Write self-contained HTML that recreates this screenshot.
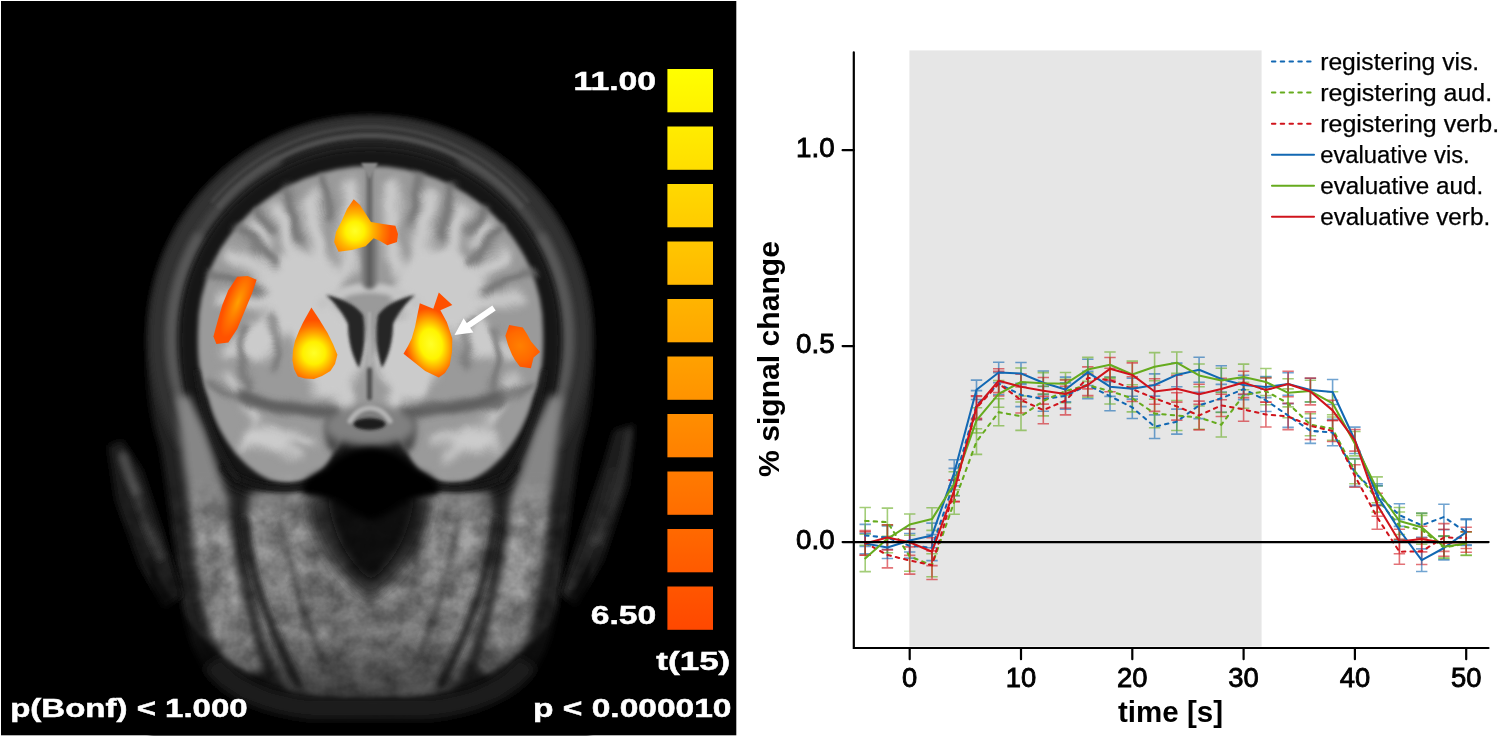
<!DOCTYPE html>
<html><head><meta charset="utf-8"><title>figure</title>
<style>
html,body{margin:0;padding:0;background:#fff;}
body{width:1499px;height:738px;overflow:hidden;font-family:"Liberation Sans",sans-serif;}
svg{display:block;position:absolute;left:0;top:0}
text{font-family:"Liberation Sans",sans-serif;}
</style></head><body>
<svg width="1499" height="738" viewBox="0 0 1499 738">
<rect width="1499" height="738" fill="#fff"/>
<!-- LEFT PANEL -->
<rect x="1" y="1" width="735.3" height="734.3" fill="#000"/>
<svg x="1" y="1" width="735.3" height="734.3" viewBox="1 1 735.3 734.3" overflow="hidden">
<defs><filter id="b1" filterUnits="userSpaceOnUse" x="0" y="0" width="740" height="740"><feGaussianBlur stdDeviation="1.1"/></filter><filter id="b15" filterUnits="userSpaceOnUse" x="0" y="0" width="740" height="740"><feGaussianBlur stdDeviation="1.6"/></filter><filter id="b2" filterUnits="userSpaceOnUse" x="0" y="0" width="740" height="740"><feGaussianBlur stdDeviation="2.1"/></filter><filter id="b3" filterUnits="userSpaceOnUse" x="0" y="0" width="740" height="740"><feGaussianBlur stdDeviation="3"/></filter><filter id="b4" filterUnits="userSpaceOnUse" x="0" y="0" width="740" height="740"><feGaussianBlur stdDeviation="4"/></filter><filter id="b6" filterUnits="userSpaceOnUse" x="0" y="0" width="740" height="740"><feGaussianBlur stdDeviation="6"/></filter><filter id="b9" filterUnits="userSpaceOnUse" x="0" y="0" width="740" height="740"><feGaussianBlur stdDeviation="9"/></filter><filter id="b14" filterUnits="userSpaceOnUse" x="0" y="0" width="740" height="740"><feGaussianBlur stdDeviation="14"/></filter>
<filter id="wob" color-interpolation-filters="sRGB" filterUnits="userSpaceOnUse" x="0" y="0" width="740" height="740"><feGaussianBlur in="SourceGraphic" stdDeviation="4" result="bl"/><feTurbulence type="fractalNoise" baseFrequency="0.028" numOctaves="2" seed="5" result="t"/><feDisplacementMap in="bl" in2="t" scale="16" xChannelSelector="R" yChannelSelector="G"/></filter>
<filter id="wob2" color-interpolation-filters="sRGB" filterUnits="userSpaceOnUse" x="0" y="0" width="740" height="740"><feGaussianBlur in="SourceGraphic" stdDeviation="3" result="bl"/><feTurbulence type="fractalNoise" baseFrequency="0.028" numOctaves="2" seed="5" result="t"/><feDisplacementMap in="bl" in2="t" scale="16" xChannelSelector="R" yChannelSelector="G"/></filter>
<filter id="grain" color-interpolation-filters="sRGB" filterUnits="userSpaceOnUse" x="0" y="0" width="740" height="740"><feTurbulence type="fractalNoise" baseFrequency="0.04" numOctaves="4" seed="11" result="n"/><feColorMatrix in="n" type="matrix" values="1.5 0 0 0 -0.25  1.5 0 0 0 -0.25  1.5 0 0 0 -0.25  0 0 0 0 1"/><feGaussianBlur stdDeviation="0.7"/></filter>
<radialGradient id="hot1" gradientUnits="userSpaceOnUse" cx="355" cy="231" r="36"><stop offset="0" stop-color="#ffff28"/><stop offset=".26" stop-color="#fff200"/><stop offset=".5" stop-color="#ffb400"/><stop offset=".78" stop-color="#ff7a00"/><stop offset="1" stop-color="#ff5400"/></radialGradient>
<radialGradient id="hot3" gradientUnits="userSpaceOnUse" cx="314" cy="353" r="33"><stop offset="0" stop-color="#ffff28"/><stop offset=".34" stop-color="#fff000"/><stop offset=".6" stop-color="#ffa800"/><stop offset=".82" stop-color="#ff7000"/><stop offset="1" stop-color="#ff5000"/></radialGradient>
<radialGradient id="hot4" gradientUnits="userSpaceOnUse" cx="431" cy="344" r="36" gradientTransform="rotate(-12 431 344) translate(431 344) scale(.72 1) translate(-431 -344)"><stop offset="0" stop-color="#ffff28"/><stop offset=".42" stop-color="#fff400"/><stop offset=".66" stop-color="#ffb000"/><stop offset=".88" stop-color="#ff7000"/><stop offset="1" stop-color="#ff5000"/></radialGradient>
<radialGradient id="hot2" gradientUnits="userSpaceOnUse" cx="238" cy="302" r="38" gradientTransform="rotate(22 238 302) translate(238 302) scale(.3 1) translate(-238 -302)"><stop offset="0" stop-color="#ffa000"/><stop offset=".45" stop-color="#ff7c00"/><stop offset="1" stop-color="#ff5200"/></radialGradient>
<radialGradient id="hot5" gradientUnits="userSpaceOnUse" cx="520" cy="346" r="24"><stop offset="0" stop-color="#ff8000"/><stop offset=".6" stop-color="#ff6a00"/><stop offset="1" stop-color="#ff5000"/></radialGradient>
<clipPath id="faceclip"><path d="M96 430H644V640C600 700 470 724 370 724C270 724 140 700 96 640Z"/></clipPath>
<linearGradient id="gfade" x1="0" y1="470" x2="0" y2="520" gradientUnits="userSpaceOnUse"><stop offset="0" stop-color="#000"/><stop offset="1" stop-color="#fff"/></linearGradient>
<mask id="gmask" maskUnits="userSpaceOnUse" x="0" y="0" width="740" height="740"><rect x="0" y="0" width="740" height="740" fill="url(#gfade)"/></mask>
</defs>
<path filter="url(#b3)" fill="#222222" d="M370 117C496 117 593 216 593 338C593 390 588 420 580 445C574 475 568 530 562 570C558 610 552 640 540 662C524 690 490 708 450 716C420 721 320 721 290 716C250 708 216 690 200 662C188 640 182 610 178 570C172 530 166 475 160 445C152 420 147 390 147 338C147 216 244 117 370 117Z"/>
<path filter="url(#b3)" fill="none" stroke="#333333" stroke-width="22" d="M188.1 443.5L179.7 427.2L172.7 410.2L167.2 392.6L163.2 374.6L160.8 356.4L160.0 338.0L160.8 319.6L163.2 301.4L167.2 283.4L172.7 265.8L179.7 248.8L188.1 232.5L198.0 217.0L209.1 202.4L221.5 188.8L235.0 176.4L249.5 165.2L265.0 155.3L281.3 146.8L298.2 139.7L315.6 134.2L333.5 130.2L351.7 127.8L370.0 127.0L388.3 127.8L406.5 130.2L424.4 134.2L441.8 139.7L458.7 146.8L475.0 155.3L490.5 165.2L505.0 176.4L518.5 188.8L530.9 202.4L542.0 217.0L551.9 232.5L560.3 248.8L567.3 265.8L572.8 283.4L576.8 301.4L579.2 319.6L580.0 338.0L579.2 356.4L576.8 374.6L572.8 392.6L567.3 410.2L560.3 427.2L551.9 443.5"/>
<path filter="url(#b3)" fill="none" stroke="#4a4a4a" stroke-width="9" stroke-linecap="round" d="M207.4 452.7L203.5 446.9L199.8 440.9L196.3 434.8L193.0 428.5L189.9 422.2L187.1 415.7L184.5 409.2L182.1 402.6L180.0 395.8L178.1 389.1L176.4 382.2L175.0 375.3L173.8 368.4L172.9 361.4L172.2 354.3L171.7 347.3L171.5 340.3L171.6 333.2L171.8 326.2L172.4 319.1L173.2 312.1L174.2 305.1L175.5 298.2L177.0 291.3L178.7 284.5L180.7 277.7L183.0 271.0L185.4 264.4L188.1 257.9L191.0 251.5L194.2 245.2L197.5 239.0L201.1 232.9L204.9 227.0L208.9 221.2L213.0 215.6L217.4 210.1L222.0 204.7L226.8 199.5L231.7 194.5L236.8 189.7L242.1 185.1L247.5 180.6L253.1 176.4L258.8 172.3L264.7 168.5L270.7 164.8L276.8 161.4"/>
<path filter="url(#b3)" fill="none" stroke="#4a4a4a" stroke-width="9" stroke-linecap="round" d="M463.2 161.4L469.3 164.8L475.3 168.5L481.2 172.3L486.9 176.4L492.5 180.6L497.9 185.1L503.2 189.7L508.3 194.5L513.2 199.5L518.0 204.7L522.6 210.1L527.0 215.6L531.1 221.2L535.1 227.0L538.9 232.9L542.5 239.0L545.8 245.2L549.0 251.5L551.9 257.9L554.6 264.4L557.0 271.0L559.3 277.7L561.3 284.5L563.0 291.3L564.5 298.2L565.8 305.1L566.8 312.1L567.6 319.1L568.2 326.2L568.4 333.2L568.5 340.3L568.3 347.3L567.8 354.3L567.1 361.4L566.2 368.4L565.0 375.3L563.6 382.2L561.9 389.1L560.0 395.8L557.9 402.6L555.5 409.2L552.9 415.7L550.1 422.2L547.0 428.5L543.7 434.8L540.2 440.9L536.5 446.9L532.6 452.7"/>
<path filter="url(#b3)" fill="none" stroke="#585858" stroke-width="10" stroke-linecap="round" d="M207.4 452.7L204.8 448.8L202.2 444.8L199.7 440.8L197.4 436.7L195.1 432.6L192.9 428.4L190.9 424.2L188.9 419.9L187.0 415.5L185.3 411.2L183.6 406.7L182.0 402.3L180.6 397.8L179.2 393.3L178.0 388.7L176.9 384.1L175.8 379.5L174.9 374.9L174.1 370.2L173.4 365.5L172.8 360.9L172.3 356.2L171.9 351.4L171.7 346.7L171.5 342.0L171.5 337.3L171.6 332.5L171.8 327.8L172.1 323.1L172.5 318.4L173.0 313.7L173.6 309.0L174.3 304.3L175.2 299.7L176.1 295.1L177.2 290.5L178.4 285.9L179.6 281.3L181.0 276.8L182.5 272.3L184.1 267.9L185.8 263.5L187.6 259.1L189.5 254.8L191.5 250.5L193.6 246.3L195.8 242.1L198.1 238.0"/>
<path filter="url(#b3)" fill="none" stroke="#585858" stroke-width="10" stroke-linecap="round" d="M541.9 238.0L544.2 242.1L546.4 246.3L548.5 250.5L550.5 254.8L552.4 259.1L554.2 263.5L555.9 267.9L557.5 272.3L559.0 276.8L560.4 281.3L561.6 285.9L562.8 290.5L563.9 295.1L564.8 299.7L565.7 304.3L566.4 309.0L567.0 313.7L567.5 318.4L567.9 323.1L568.2 327.8L568.4 332.5L568.5 337.3L568.5 342.0L568.3 346.7L568.1 351.4L567.7 356.2L567.2 360.9L566.6 365.5L565.9 370.2L565.1 374.9L564.2 379.5L563.1 384.1L562.0 388.7L560.8 393.3L559.4 397.8L558.0 402.3L556.4 406.7L554.7 411.2L553.0 415.5L551.1 419.9L549.1 424.2L547.1 428.4L544.9 432.6L542.6 436.7L540.3 440.8L537.8 444.8L535.2 448.8L532.6 452.7"/>
<path filter="url(#b15)" fill="none" stroke="#505050" stroke-width="5" d="M217.6 207.8L222.3 202.3L227.3 196.9L232.4 191.7L237.7 186.7L243.2 181.9L248.9 177.3L254.7 173.0L260.6 168.8L266.8 164.9L273.0 161.2L279.4 157.7L285.9 154.5L292.5 151.5L299.2 148.7L306.0 146.2L312.9 144.0L319.9 142.0L326.9 140.3L334.0 138.8L341.2 137.6L348.3 136.7L355.5 136.0L362.8 135.6L370.0 135.5L377.2 135.6L384.5 136.0L391.7 136.7L398.8 137.6L406.0 138.8L413.1 140.3L420.1 142.0L427.1 144.0L434.0 146.2L440.8 148.7L447.5 151.5L454.1 154.5L460.6 157.7L467.0 161.2L473.2 164.9L479.4 168.8L485.3 173.0L491.1 177.3L496.8 181.9L502.3 186.7L507.6 191.7L512.7 196.9L517.7 202.3L522.4 207.8"/>
<path filter="url(#b15)" fill="none" stroke="#464646" stroke-width="3" d="M211.4 202.4L216.4 196.6L221.5 191.0L226.9 185.6L232.4 180.4L238.1 175.4L244.0 170.6L250.0 166.0L256.3 161.7L262.6 157.6L269.1 153.8L275.8 150.1L282.5 146.8L289.4 143.7L296.4 140.8L303.5 138.2L310.6 135.9L317.9 133.8L325.2 132.0L332.6 130.5L340.0 129.2L347.5 128.3L355.0 127.6L362.5 127.1L370.0 127.0L377.5 127.1L385.0 127.6L392.5 128.3L400.0 129.2L407.4 130.5L414.8 132.0L422.1 133.8L429.4 135.9L436.5 138.2L443.6 140.8L450.6 143.7L457.5 146.8L464.2 150.1L470.9 153.8L477.4 157.6L483.7 161.7L490.0 166.0L496.0 170.6L501.9 175.4L507.6 180.4L513.1 185.6L518.5 191.0L523.6 196.6L528.6 202.4"/>
<path filter="url(#b3)" fill="#141414" d="M370 149C476 149 560 232 560 338C560 390 548 430 526 470C510 496 480 500 460 496H280C260 500 230 496 214 470C192 430 180 390 180 338C180 232 264 149 370 149Z"/>
<path filter="url(#b2)" fill="#9a9a9a" d="M198 330A172.5 164 0 0 1 543 330C544 360 541 380 533 398C525 430 503 466 471 480C441 488 419 476 409 456C401 436 391 416 370.5 412C350 416 340 436 332 456C322 476 300 488 270 480C238 466 216 430 208 398C200 380 197 360 198 330Z"/>
<g filter="url(#wob)" fill="#cbcbcb" stroke="#cbcbcb" stroke-linecap="round"><path fill="none" d="M322 264L311 199" stroke-width="15"/><g transform="translate(741 0) scale(-1 1)"><path fill="none" d="M322 264L311 199" stroke-width="15"/></g><path fill="none" d="M297 268L278 208" stroke-width="14"/><g transform="translate(741 0) scale(-1 1)"><path fill="none" d="M297 268L278 208" stroke-width="14"/></g><path fill="none" d="M290 280L233 255" stroke-width="14"/><g transform="translate(741 0) scale(-1 1)"><path fill="none" d="M290 280L233 255" stroke-width="14"/></g><path fill="none" d="M286 300L219 300" stroke-width="13"/><g transform="translate(741 0) scale(-1 1)"><path fill="none" d="M286 300L219 300" stroke-width="13"/></g><path fill="none" d="M266 244L254 228" stroke-width="11"/><g transform="translate(741 0) scale(-1 1)"><path fill="none" d="M266 244L254 228" stroke-width="11"/></g><path fill="none" d="M347 268L351 186" stroke-width="15"/><g transform="translate(741 0) scale(-1 1)"><path fill="none" d="M347 268L351 186" stroke-width="15"/></g><path fill="none" d="M300 290L258 345" stroke-width="34"/><g transform="translate(741 0) scale(-1 1)"><path fill="none" d="M300 290L258 345" stroke-width="34"/></g><path fill="none" d="M262 340L226 352" stroke-width="13"/><g transform="translate(741 0) scale(-1 1)"><path fill="none" d="M262 340L226 352" stroke-width="13"/></g><path fill="none" d="M300 300L330 380" stroke-width="40"/><g transform="translate(741 0) scale(-1 1)"><path fill="none" d="M300 300L330 380" stroke-width="40"/></g><path fill="none" d="M226 376L254 420" stroke-width="9"/><g transform="translate(741 0) scale(-1 1)"><path fill="none" d="M226 376L254 420" stroke-width="9"/></g><path fill="none" d="M262 434L242 448" stroke-width="8"/><g transform="translate(741 0) scale(-1 1)"><path fill="none" d="M262 434L242 448" stroke-width="8"/></g><path fill="none" d="M264 438L296 458" stroke-width="9"/><g transform="translate(741 0) scale(-1 1)"><path fill="none" d="M264 438L296 458" stroke-width="9"/></g><path fill="none" d="M270 432L308 442" stroke-width="9"/><g transform="translate(741 0) scale(-1 1)"><path fill="none" d="M270 432L308 442" stroke-width="9"/></g><path fill="none" d="M330 380L348 402" stroke-width="18"/><g transform="translate(741 0) scale(-1 1)"><path fill="none" d="M330 380L348 402" stroke-width="18"/></g><g stroke="none"><ellipse cx="302" cy="288" rx="44" ry="38"/></g><g transform="translate(741 0) scale(-1 1)"><g stroke="none"><ellipse cx="302" cy="288" rx="44" ry="38"/></g></g><g stroke="none"><ellipse cx="332" cy="352" rx="34" ry="40"/></g><g transform="translate(741 0) scale(-1 1)"><g stroke="none"><ellipse cx="332" cy="352" rx="34" ry="40"/></g></g><g stroke="none"><ellipse cx="266" cy="438" rx="22" ry="12"/></g><g transform="translate(741 0) scale(-1 1)"><g stroke="none"><ellipse cx="266" cy="438" rx="22" ry="12"/></g></g></g>
<path filter="url(#b2)" fill="none" stroke="#c4c4c4" stroke-width="10" stroke-linecap="round" d="M322 304C338 292 354 288 369.5 288C385 288 401 292 417 304"/>
<g filter="url(#wob2)" fill="none" stroke="#707070" stroke-linecap="round"><path d="M287 187L300 238" stroke-width="7"/><g transform="translate(741 0) scale(-1 1)"><path d="M287 187L300 238" stroke-width="7"/></g><path d="M322 175L329 218" stroke-width="6.5"/><g transform="translate(741 0) scale(-1 1)"><path d="M322 175L329 218" stroke-width="6.5"/></g><path d="M238 229L274 264" stroke-width="7"/><g transform="translate(741 0) scale(-1 1)"><path d="M238 229L274 264" stroke-width="7"/></g><path d="M209 273L262 290" stroke-width="7"/><g transform="translate(741 0) scale(-1 1)"><path d="M209 273L262 290" stroke-width="7"/></g><path d="M258 209L270 234" stroke-width="6.5"/><g transform="translate(741 0) scale(-1 1)"><path d="M258 209L270 234" stroke-width="6.5"/></g><path d="M268 316C280 330 280 352 272 368" stroke-width="5.5"/><g transform="translate(741 0) scale(-1 1)"><path d="M268 316C280 330 280 352 272 368" stroke-width="5.5"/></g><path d="M246 330C240 350 240 370 250 388" stroke-width="6"/><g transform="translate(741 0) scale(-1 1)"><path d="M246 330C240 350 240 370 250 388" stroke-width="6"/></g><path d="M210 384L246 404" stroke-width="6.5"/><g transform="translate(741 0) scale(-1 1)"><path d="M210 384L246 404" stroke-width="6.5"/></g><path d="M240 394C268 408 306 408 338 414" stroke-width="10"/><g transform="translate(741 0) scale(-1 1)"><path d="M240 394C268 408 306 408 338 414" stroke-width="10"/></g></g>
<g filter="url(#b3)" fill="none" stroke="#5c5c5c" stroke-linecap="round"><path d="M244 396C270 409 306 409 336 414" stroke-width="8"/><g transform="translate(741 0) scale(-1 1)"><path d="M244 396C270 409 306 409 336 414" stroke-width="8"/></g></g>
<g filter="url(#b3)" fill="#4a4a4a"><ellipse cx="334" cy="432" rx="9" ry="20"/><g transform="translate(741 0) scale(-1 1)"><ellipse cx="334" cy="432" rx="9" ry="20"/></g></g>
<g filter="url(#b2)" fill="none" stroke-linecap="round"><path d="M369.5 236V282" stroke="#767676" stroke-width="15"/><path d="M369.5 170V286" stroke="#505050" stroke-width="4"/></g>
<path filter="url(#b1)" fill="#8a8a8a" d="M361 163L378 163L369.5 179Z"/>
<g filter="url(#b15)" fill="#262626"><path d="M326 295C341 298 356 305 363 315C366 332 365 350 359 368C352 356 348 340 348 324C343 313 335 303 326 295Z"/><g transform="translate(741 0) scale(-1 1)"><path d="M326 295C341 298 356 305 363 315C366 332 365 350 359 368C352 356 348 340 348 324C343 313 335 303 326 295Z"/></g></g>
<path filter="url(#b1)" fill="none" stroke="#b0b0b0" stroke-width="2.5" d="M369.5 312V366"/>
<path filter="url(#b15)" fill="none" stroke="#505050" stroke-width="5" stroke-linecap="round" d="M369.5 370V398"/>
<ellipse filter="url(#b4)" cx="370" cy="426" rx="46" ry="20" fill="#808080"/>
<ellipse filter="url(#b15)" cx="369.5" cy="424" rx="16" ry="6" fill="#1e1e1e"/>
<path filter="url(#b15)" fill="none" stroke="#b4b4b4" stroke-width="5" stroke-linecap="round" d="M350 421C356 411 364 408 370 408C376 408 384 411 390 421"/>
<g><path filter="url(#b4)" fill="#7e7e7e" d="M250 492C300 488 440 488 490 492C498 560 484 640 452 694C420 706 320 706 288 694C256 640 242 560 250 492Z"/><ellipse filter="url(#b9)" cx="372" cy="622" rx="78" ry="44" fill="#787878"/><g filter="url(#b4)" fill="#868686"><path d="M177 396L180 430L183 460L189 500L193 540L202 600L213 640L226 664L246 676L264 670L254 640L244 600L232 540L228 500L215 460L205 430L189 396Z"/><g transform="translate(739 0) scale(-1 1)"><path d="M177 396L180 430L183 460L189 500L193 540L202 600L213 640L226 664L246 676L264 670L254 640L244 600L232 540L228 500L215 460L205 430L189 396Z"/></g></g><g filter="url(#b3)" fill="none" stroke="#202020" stroke-linecap="round"><path d="M243 520C250 572 270 630 298 684" stroke-width="8"/><g transform="translate(739 0) scale(-1 1)"><path d="M243 520C250 572 270 630 298 684" stroke-width="8"/></g></g><g filter="url(#b3)" fill="none" stroke="#484848" stroke-linecap="round"><path d="M280 520C290 570 305 620 322 660" stroke-width="5"/><g transform="translate(739 0) scale(-1 1)"><path d="M280 520C290 570 305 620 322 660" stroke-width="5"/></g></g><g filter="url(#b2)" fill="none" stroke="#161616" stroke-linecap="round"><path d="M224 468C250 492 300 494 332 478" stroke-width="7"/><g transform="translate(739 0) scale(-1 1)"><path d="M224 468C250 492 300 494 332 478" stroke-width="7"/></g></g><g filter="url(#b2)" fill="none" stroke="#1a1a1a" stroke-linecap="round"><path d="M197 372C204 420 218 452 238 480" stroke-width="4.5"/><path d="M544 372C537 420 523 452 502 480" stroke-width="4.5"/></g><path filter="url(#b6)" fill="#262626" d="M308 498C340 490 400 490 432 498C430 540 404 578 370 600C336 578 310 540 308 498Z"/><path filter="url(#b4)" fill="#0c0c0c" d="M328 498C344 494 398 494 414 498C410 536 392 564 371 580C350 564 332 536 328 498Z"/><path filter="url(#b3)" fill="#040404" d="M326 470C336 456 352 449 371 448C390 449 404 456 416 470C432 474 442 484 438 494C422 498 408 500 400 506C390 514 380 518 371 520C362 518 352 514 342 506C334 500 320 498 304 494C300 484 310 474 326 470Z"/><g filter="url(#b3)"><path fill="#1c1c1c" d="M122 440L108 446L116 500L140 566L164 608L182 596L160 524L142 470Z"/><path fill="#1e1e1e" d="M614 430L634 424L628 484L602 562L576 606L560 594L584 522L604 464Z"/><path fill="none" stroke="#343434" stroke-width="8" stroke-linecap="round" d="M136 492C142 512 150 534 160 556"/><path fill="none" stroke="#525252" stroke-width="7" stroke-linecap="round" d="M123 456C126 468 131 480 136 492"/><path fill="none" stroke="#363636" stroke-width="5" stroke-linecap="round" d="M630 432C624 470 612 510 596 542"/><path fill="none" stroke="#2c2c2c" stroke-width="4" stroke-linecap="round" d="M612 470C604 510 590 550 572 588"/></g></g>
<g clip-path="url(#faceclip)" mask="url(#gmask)" style="mix-blend-mode:overlay" opacity=".3"><rect x="90" y="425" width="560" height="305" filter="url(#grain)"/></g>
<linearGradient id="bfade" x1="0" y1="590" x2="0" y2="720" gradientUnits="userSpaceOnUse"><stop offset="0" stop-color="#000" stop-opacity="0"/><stop offset=".35" stop-color="#000" stop-opacity=".1"/><stop offset=".46" stop-color="#000" stop-opacity=".2"/><stop offset=".65" stop-color="#000" stop-opacity=".4"/><stop offset=".8" stop-color="#000" stop-opacity=".5"/><stop offset="1" stop-color="#000" stop-opacity=".6"/></linearGradient><rect x="140" y="590" width="460" height="140" fill="url(#bfade)"/><path filter="url(#b2)" fill="#000" fill-opacity=".55" d="M150 560C180 620 220 672 300 694L330 697H410L440 694C520 672 560 620 590 560V740H150Z"/>
<path style="mix-blend-mode:lighten" filter="url(#b4)" fill="none" stroke="#1a1a1a" stroke-width="22" d="M212 662C232 690 270 704 310 708H430C470 704 508 690 528 662"/>
<g id="blobs">
<path fill="url(#hot1)" d="M353.7 199.2L360 205L371 222L383 224L395.4 225.7L398 234L397 242L387.3 245.3L380 241L373.7 238.2L365.6 246.3L352 250L338.5 251.8L334.1 242L336 232L341.2 222L347 209Z"/>
<path fill="url(#hot2)" d="M237.2 276.8L247.7 276L256.6 279.8L252.1 293.2L244.7 311.1L237.2 329L228.3 342.4L216.4 343.9L213.4 336.4L217.9 320L222.3 305.1L228.3 290.3Z"/>
<path fill="url(#hot3)" d="M311.4 307.6L319 319L327.6 333L333 344L337.4 354.7L335 364L330.4 371L322 376L314 379L305 378.5L297.8 376.4L294 369L292.4 360L293 350L295 341L299 331L303.3 322Z"/>
<path fill="url(#hot4)" d="M419.8 303.3L433.3 308.7L438.8 292.4L452.3 304.9L440.4 310.3L446.9 322.2L452.3 338.5L452 352L449.6 365.6L445 373L438.8 377.5L425.2 371L411.7 360.2L403.5 353.7L408 346L411.7 338.5L415 327L417 316.8Z"/>
<path fill="url(#hot5)" d="M509.2 325L522.8 327.6L527 334L530.9 341.2L540.1 352L533.6 357.5L530.9 368.3L520 366.7L515 360L512 354.7L508 345L505.4 335.8Z"/>
</g>
<path fill="#fff" d="M454.5 335L463.6 318.2L466.8 323L492.3 305.6L495.7 310.4L470.2 327.8L473.4 332.6Z"/>
</svg>
<linearGradient id="cb0" x1="0" y1="0" x2="0" y2="1"><stop offset="0" stop-color="rgb(255,255,0)"/><stop offset="1" stop-color="rgb(255,241,0)"/></linearGradient>
<rect x="667.4" y="69.0" width="45.6" height="43.3" fill="url(#cb0)"/>
<linearGradient id="cb1" x1="0" y1="0" x2="0" y2="1"><stop offset="0" stop-color="rgb(255,236,0)"/><stop offset="1" stop-color="rgb(255,222,0)"/></linearGradient>
<rect x="667.4" y="126.5" width="45.6" height="43.3" fill="url(#cb1)"/>
<linearGradient id="cb2" x1="0" y1="0" x2="0" y2="1"><stop offset="0" stop-color="rgb(255,217,0)"/><stop offset="1" stop-color="rgb(255,203,0)"/></linearGradient>
<rect x="667.4" y="184.0" width="45.6" height="43.3" fill="url(#cb2)"/>
<linearGradient id="cb3" x1="0" y1="0" x2="0" y2="1"><stop offset="0" stop-color="rgb(255,199,0)"/><stop offset="1" stop-color="rgb(255,184,0)"/></linearGradient>
<rect x="667.4" y="241.5" width="45.6" height="43.3" fill="url(#cb3)"/>
<linearGradient id="cb4" x1="0" y1="0" x2="0" y2="1"><stop offset="0" stop-color="rgb(255,180,0)"/><stop offset="1" stop-color="rgb(255,166,0)"/></linearGradient>
<rect x="667.4" y="299.0" width="45.6" height="43.3" fill="url(#cb4)"/>
<linearGradient id="cb5" x1="0" y1="0" x2="0" y2="1"><stop offset="0" stop-color="rgb(255,161,0)"/><stop offset="1" stop-color="rgb(255,147,0)"/></linearGradient>
<rect x="667.4" y="356.5" width="45.6" height="43.3" fill="url(#cb5)"/>
<linearGradient id="cb6" x1="0" y1="0" x2="0" y2="1"><stop offset="0" stop-color="rgb(255,142,0)"/><stop offset="1" stop-color="rgb(255,128,0)"/></linearGradient>
<rect x="667.4" y="414.0" width="45.6" height="43.3" fill="url(#cb6)"/>
<linearGradient id="cb7" x1="0" y1="0" x2="0" y2="1"><stop offset="0" stop-color="rgb(255,123,0)"/><stop offset="1" stop-color="rgb(255,109,0)"/></linearGradient>
<rect x="667.4" y="471.5" width="45.6" height="43.3" fill="url(#cb7)"/>
<linearGradient id="cb8" x1="0" y1="0" x2="0" y2="1"><stop offset="0" stop-color="rgb(255,105,0)"/><stop offset="1" stop-color="rgb(255,90,0)"/></linearGradient>
<rect x="667.4" y="529.0" width="45.6" height="43.3" fill="url(#cb8)"/>
<linearGradient id="cb9" x1="0" y1="0" x2="0" y2="1"><stop offset="0" stop-color="rgb(255,86,0)"/><stop offset="1" stop-color="rgb(255,72,0)"/></linearGradient>
<rect x="667.4" y="586.5" width="45.6" height="43.3" fill="url(#cb9)"/>
<g fill="#fff" stroke="#fff" stroke-width=".5" font-weight="bold" font-size="25.5">
<text x="573.6" y="90.3" textLength="82.5" lengthAdjust="spacingAndGlyphs">11.00</text>
<text x="590.7" y="624.3" textLength="65.5" lengthAdjust="spacingAndGlyphs">6.50</text>
<text x="656.3" y="670.3" textLength="74" lengthAdjust="spacingAndGlyphs">t(15)</text>
<text x="533" y="717.4" textLength="198.5" lengthAdjust="spacingAndGlyphs">p &lt; 0.000010</text>
<text x="10.2" y="717.2" textLength="237.5" lengthAdjust="spacingAndGlyphs">p(Bonf) &lt; 1.000</text>
</g>
<!-- RIGHT PANEL -->
<rect x="909.4" y="50.4" width="352.2" height="596.2" fill="#e6e6e6"/>
<path d="M865.2 524.4V546.4M859.5 524.4h11.4M859.5 546.4h11.4M887.4 526.0V549.4M881.7 526.0h11.4M881.7 549.4h11.4M909.7 533.5V558.1M904.0 533.5h11.4M904.0 558.1h11.4M932.0 534.6V560.6M926.3 534.6h11.4M926.3 560.6h11.4M954.2 468.4V495.8M948.5 468.4h11.4M948.5 495.8h11.4M976.5 390.6V419.4M970.8 390.6h11.4M970.8 419.4h11.4M998.7 372.6V394.8M993.0 372.6h11.4M993.0 394.8h11.4M1021.0 383.2V406.6M1015.3 383.2h11.4M1015.3 406.6h11.4M1043.3 386.5V411.3M1037.6 386.5h11.4M1037.6 411.3h11.4M1065.5 382.9V409.1M1059.8 382.9h11.4M1059.8 409.1h11.4M1087.8 371.2V398.8M1082.1 371.2h11.4M1082.1 398.8h11.4M1110.0 381.7V410.7M1104.3 381.7h11.4M1104.3 410.7h11.4M1132.3 396.3V418.5M1126.6 396.3h11.4M1126.6 418.5h11.4M1154.6 414.9V438.5M1148.9 414.9h11.4M1148.9 438.5h11.4M1176.8 409.1V434.1M1171.1 409.1h11.4M1171.1 434.1h11.4M1199.1 392.2V418.6M1193.4 392.2h11.4M1193.4 418.6h11.4M1221.3 384.4V412.2M1215.6 384.4h11.4M1215.6 412.2h11.4M1243.6 378.6V399.6M1237.9 378.6h11.4M1237.9 399.6h11.4M1265.9 389.1V411.5M1260.2 389.1h11.4M1260.2 411.5h11.4M1288.1 403.6V427.4M1282.4 403.6h11.4M1282.4 427.4h11.4M1310.4 418.2V443.4M1304.7 418.2h11.4M1304.7 443.4h11.4M1332.6 419.2V445.8M1326.9 419.2h11.4M1326.9 445.8h11.4M1354.9 458.6V486.4M1349.2 458.6h11.4M1349.2 486.4h11.4M1377.2 483.8V505.0M1371.5 483.8h11.4M1371.5 505.0h11.4M1399.4 503.8V526.4M1393.7 503.8h11.4M1393.7 526.4h11.4M1421.7 513.3V537.3M1416.0 513.3h11.4M1416.0 537.3h11.4M1443.9 504.3V529.7M1438.2 504.3h11.4M1438.2 529.7h11.4M1466.2 518.9V545.5M1460.5 518.9h11.4M1460.5 545.5h11.4" stroke="#1268b3" stroke-opacity=".6" stroke-width="1.6" fill="none"/>
<path d="M865.2 507.5V534.3M859.5 507.5h11.4M859.5 534.3h11.4M887.4 508.1V536.3M881.7 508.1h11.4M881.7 536.3h11.4M909.7 541.6V571.2M904.0 541.6h11.4M904.0 571.2h11.4M932.0 553.7V576.7M926.3 553.7h11.4M926.3 576.7h11.4M954.2 489.8V514.2M948.5 489.8h11.4M948.5 514.2h11.4M976.5 428.8V454.4M970.8 428.8h11.4M970.8 454.4h11.4M998.7 398.7V425.7M993.0 398.7h11.4M993.0 425.7h11.4M1021.0 402.0V430.4M1015.3 402.0h11.4M1015.3 430.4h11.4M1043.3 386.1V415.9M1037.6 386.1h11.4M1037.6 415.9h11.4M1065.5 379.4V402.6M1059.8 379.4h11.4M1059.8 402.6h11.4M1087.8 372.8V397.2M1082.1 372.8h11.4M1082.1 397.2h11.4M1110.0 378.2V404.0M1104.3 378.2h11.4M1104.3 404.0h11.4M1132.3 384.7V411.9M1126.6 384.7h11.4M1126.6 411.9h11.4M1154.6 399.2V427.8M1148.9 399.2h11.4M1148.9 427.8h11.4M1176.8 400.5V430.5M1171.1 400.5h11.4M1171.1 430.5h11.4M1199.1 406.0V429.2M1193.4 406.0h11.4M1193.4 429.2h11.4M1221.3 412.4V437.0M1215.6 412.4h11.4M1215.6 437.0h11.4M1243.6 382.2V408.2M1237.9 382.2h11.4M1237.9 408.2h11.4M1265.9 377.4V404.8M1260.2 377.4h11.4M1260.2 404.8h11.4M1288.1 388.9V417.7M1282.4 388.9h11.4M1282.4 417.7h11.4M1310.4 413.7V435.7M1304.7 413.7h11.4M1304.7 435.7h11.4M1332.6 417.0V440.4M1326.9 417.0h11.4M1326.9 440.4h11.4M1354.9 459.0V483.8M1349.2 459.0h11.4M1349.2 483.8h11.4M1377.2 485.9V512.1M1371.5 485.9h11.4M1371.5 512.1h11.4M1399.4 512.0V539.6M1393.7 512.0h11.4M1393.7 539.6h11.4M1421.7 515.4V544.2M1416.0 515.4h11.4M1416.0 544.2h11.4M1443.9 536.5V558.7M1438.2 536.5h11.4M1438.2 558.7h11.4M1466.2 531.8V555.4M1460.5 531.8h11.4M1460.5 555.4h11.4" stroke="#66ab1e" stroke-opacity=".6" stroke-width="1.6" fill="none"/>
<path d="M865.2 530.6V555.0M859.5 530.6h11.4M859.5 555.0h11.4M887.4 542.1V567.9M881.7 542.1h11.4M881.7 567.9h11.4M909.7 546.9V574.1M904.0 546.9h11.4M904.0 574.1h11.4M932.0 550.9V579.5M926.3 550.9h11.4M926.3 579.5h11.4M954.2 480.1V501.9M948.5 480.1h11.4M948.5 501.9h11.4M976.5 396.4V419.6M970.8 396.4h11.4M970.8 419.6h11.4M998.7 371.4V396.0M993.0 371.4h11.4M993.0 396.0h11.4M1021.0 387.0V413.0M1015.3 387.0h11.4M1015.3 413.0h11.4M1043.3 396.4V423.8M1037.6 396.4h11.4M1037.6 423.8h11.4M1065.5 386.3V414.9M1059.8 386.3h11.4M1059.8 414.9h11.4M1087.8 366.9V388.9M1082.1 366.9h11.4M1082.1 388.9h11.4M1110.0 368.3V391.7M1104.3 368.3h11.4M1104.3 391.7h11.4M1132.3 376.7V401.5M1126.6 376.7h11.4M1126.6 401.5h11.4M1154.6 385.2V411.4M1148.9 385.2h11.4M1148.9 411.4h11.4M1176.8 392.7V420.1M1171.1 392.7h11.4M1171.1 420.1h11.4M1199.1 401.1V429.9M1193.4 401.1h11.4M1193.4 429.9h11.4M1221.3 394.3V416.5M1215.6 394.3h11.4M1215.6 416.5h11.4M1243.6 397.6V421.2M1237.9 397.6h11.4M1237.9 421.2h11.4M1265.9 402.0V427.0M1260.2 402.0h11.4M1260.2 427.0h11.4M1288.1 403.4V429.6M1282.4 403.4h11.4M1282.4 429.6h11.4M1310.4 411.9V439.5M1304.7 411.9h11.4M1304.7 439.5h11.4M1332.6 420.5V441.5M1326.9 420.5h11.4M1326.9 441.5h11.4M1354.9 464.8V487.2M1349.2 464.8h11.4M1349.2 487.2h11.4M1377.2 505.5V529.3M1371.5 505.5h11.4M1371.5 529.3h11.4M1399.4 539.2V564.2M1393.7 539.2h11.4M1393.7 564.2h11.4M1421.7 538.1V564.5M1416.0 538.1h11.4M1416.0 564.5h11.4M1443.9 523.6V551.4M1438.2 523.6h11.4M1438.2 551.4h11.4M1466.2 527.3V548.5M1460.5 527.3h11.4M1460.5 548.5h11.4" stroke="#d0141c" stroke-opacity=".6" stroke-width="1.6" fill="none"/>
<path d="M865.2 533.2V553.8M859.5 533.2h11.4M859.5 553.8h11.4M887.4 536.7V558.5M881.7 536.7h11.4M881.7 558.5h11.4M909.7 528.8V552.0M904.0 528.8h11.4M904.0 552.0h11.4M932.0 523.1V547.7M926.3 523.1h11.4M926.3 547.7h11.4M954.2 459.8V485.8M948.5 459.8h11.4M948.5 485.8h11.4M976.5 380.1V399.5M970.8 380.1h11.4M970.8 399.5h11.4M998.7 362.2V382.8M993.0 362.2h11.4M993.0 382.8h11.4M1021.0 362.5V384.5M1015.3 362.5h11.4M1015.3 384.5h11.4M1043.3 371.0V394.4M1037.6 371.0h11.4M1037.6 394.4h11.4M1065.5 377.1V401.9M1059.8 377.1h11.4M1059.8 401.9h11.4M1087.8 359.3V385.5M1082.1 359.3h11.4M1082.1 385.5h11.4M1110.0 377.0V396.4M1104.3 377.0h11.4M1104.3 396.4h11.4M1132.3 378.3V399.1M1126.6 378.3h11.4M1126.6 399.1h11.4M1154.6 373.9V396.1M1148.9 373.9h11.4M1148.9 396.1h11.4M1176.8 363.1V386.7M1171.1 363.1h11.4M1171.1 386.7h11.4M1199.1 357.3V382.3M1193.4 357.3h11.4M1193.4 382.3h11.4M1221.3 365.8V392.0M1215.6 365.8h11.4M1215.6 392.0h11.4M1243.6 375.2V394.8M1237.9 375.2h11.4M1237.9 394.8h11.4M1265.9 376.6V397.6M1260.2 376.6h11.4M1260.2 397.6h11.4M1288.1 372.8V395.2M1282.4 372.8h11.4M1282.4 395.2h11.4M1310.4 378.2V402.0M1304.7 378.2h11.4M1304.7 402.0h11.4M1332.6 379.5V404.5M1326.9 379.5h11.4M1326.9 404.5h11.4M1354.9 427.1V453.5M1349.2 427.1h11.4M1349.2 453.5h11.4M1377.2 485.6V505.4M1371.5 485.6h11.4M1371.5 505.4h11.4M1399.4 519.4V540.6M1393.7 519.4h11.4M1393.7 540.6h11.4M1421.7 548.9V571.5M1416.0 548.9h11.4M1416.0 571.5h11.4M1443.9 536.1V559.9M1438.2 536.1h11.4M1438.2 559.9h11.4M1466.2 519.6V544.8M1460.5 519.6h11.4M1460.5 544.8h11.4" stroke="#1268b3" stroke-opacity=".6" stroke-width="1.6" fill="none"/>
<path d="M865.2 545.2V571.6M859.5 545.2h11.4M859.5 571.6h11.4M887.4 524.9V552.7M881.7 524.9h11.4M881.7 552.7h11.4M909.7 514.0V535.2M904.0 514.0h11.4M904.0 535.2h11.4M932.0 507.8V530.4M926.3 507.8h11.4M926.3 530.4h11.4M954.2 471.8V495.6M948.5 471.8h11.4M948.5 495.6h11.4M976.5 407.7V432.9M970.8 407.7h11.4M970.8 432.9h11.4M998.7 380.6V407.2M993.0 380.6h11.4M993.0 407.2h11.4M1021.0 368.0V396.0M1015.3 368.0h11.4M1015.3 396.0h11.4M1043.3 372.6V394.0M1037.6 372.6h11.4M1037.6 394.0h11.4M1065.5 372.5V395.1M1059.8 372.5h11.4M1059.8 395.1h11.4M1087.8 357.4V381.4M1082.1 357.4h11.4M1082.1 381.4h11.4M1110.0 352.0V377.4M1104.3 352.0h11.4M1104.3 377.4h11.4M1132.3 361.1V387.9M1126.6 361.1h11.4M1126.6 387.9h11.4M1154.6 352.6V380.8M1148.9 352.6h11.4M1148.9 380.8h11.4M1176.8 352.0V373.4M1171.1 352.0h11.4M1171.1 373.4h11.4M1199.1 364.0V386.8M1193.4 364.0h11.4M1193.4 386.8h11.4M1221.3 368.3V392.5M1215.6 368.3h11.4M1215.6 392.5h11.4M1243.6 364.1V389.7M1237.9 364.1h11.4M1237.9 389.7h11.4M1265.9 368.5V395.5M1260.2 368.5h11.4M1260.2 395.5h11.4M1288.1 378.7V406.9M1282.4 378.7h11.4M1282.4 406.9h11.4M1310.4 380.3V401.9M1304.7 380.3h11.4M1304.7 401.9h11.4M1332.6 391.8V414.8M1326.9 391.8h11.4M1326.9 414.8h11.4M1354.9 431.5V455.9M1349.2 431.5h11.4M1349.2 455.9h11.4M1377.2 476.9V502.7M1371.5 476.9h11.4M1371.5 502.7h11.4M1399.4 507.5V534.5M1393.7 507.5h11.4M1393.7 534.5h11.4M1421.7 513.1V541.5M1416.0 513.1h11.4M1416.0 541.5h11.4M1443.9 535.9V557.7M1438.2 535.9h11.4M1438.2 557.7h11.4M1466.2 532.0V555.2M1460.5 532.0h11.4M1460.5 555.2h11.4" stroke="#66ab1e" stroke-opacity=".6" stroke-width="1.6" fill="none"/>
<path d="M865.2 531.7V555.3M859.5 531.7h11.4M859.5 555.3h11.4M887.4 524.9V549.9M881.7 524.9h11.4M881.7 549.9h11.4M909.7 529.0V555.4M904.0 529.0h11.4M904.0 555.4h11.4M932.0 537.8V565.6M926.3 537.8h11.4M926.3 565.6h11.4M954.2 480.1V501.3M948.5 480.1h11.4M948.5 501.3h11.4M976.5 395.8V418.2M970.8 395.8h11.4M970.8 418.2h11.4M998.7 368.8V392.6M993.0 368.8h11.4M993.0 392.6h11.4M1021.0 374.1V399.3M1015.3 374.1h11.4M1015.3 399.3h11.4M1043.3 377.5V404.1M1037.6 377.5h11.4M1037.6 404.1h11.4M1065.5 380.0V408.0M1059.8 380.0h11.4M1059.8 408.0h11.4M1087.8 374.4V395.6M1082.1 374.4h11.4M1082.1 395.6h11.4M1110.0 357.5V380.1M1104.3 357.5h11.4M1104.3 380.1h11.4M1132.3 362.9V386.9M1126.6 362.9h11.4M1126.6 386.9h11.4M1154.6 378.8V404.2M1148.9 378.8h11.4M1148.9 404.2h11.4M1176.8 375.3V402.1M1171.1 375.3h11.4M1171.1 402.1h11.4M1199.1 384.2V404.2M1193.4 384.2h11.4M1193.4 404.2h11.4M1221.3 378.4V399.8M1215.6 378.4h11.4M1215.6 399.8h11.4M1243.6 371.2V394.0M1237.9 371.2h11.4M1237.9 394.0h11.4M1265.9 378.0V402.2M1260.2 378.0h11.4M1260.2 402.2h11.4M1288.1 371.2V396.8M1282.4 371.2h11.4M1282.4 396.8h11.4M1310.4 378.1V404.9M1304.7 378.1h11.4M1304.7 404.9h11.4M1332.6 400.3V420.5M1326.9 400.3h11.4M1326.9 420.5h11.4M1354.9 429.5V451.1M1349.2 429.5h11.4M1349.2 451.1h11.4M1377.2 493.3V516.3M1371.5 493.3h11.4M1371.5 516.3h11.4M1399.4 529.3V553.7M1393.7 529.3h11.4M1393.7 553.7h11.4M1421.7 526.3V551.9M1416.0 526.3h11.4M1416.0 551.9h11.4M1443.9 529.3V556.3M1438.2 529.3h11.4M1438.2 556.3h11.4M1466.2 531.8V552.2M1460.5 531.8h11.4M1460.5 552.2h11.4" stroke="#d0141c" stroke-opacity=".6" stroke-width="1.6" fill="none"/>
<polyline points="865.2,535.4 887.4,537.7 909.7,545.8 932.0,547.6 954.2,482.1 976.5,405.0 998.7,383.7 1021.0,394.9 1043.3,398.9 1065.5,396.0 1087.8,385.0 1110.0,396.2 1132.3,407.4 1154.6,426.7 1176.8,421.6 1199.1,405.4 1221.3,398.3 1243.6,389.1 1265.9,400.3 1288.1,415.5 1310.4,430.8 1332.6,432.5 1354.9,472.5 1377.2,494.4 1399.4,515.1 1421.7,525.3 1443.9,517.0 1466.2,532.2" stroke="#1268b3" stroke-width="2.05" fill="none" stroke-dasharray="3.4 5.1" stroke-linecap="round"/>
<polyline points="865.2,520.9 887.4,522.2 909.7,556.4 932.0,565.2 954.2,502.0 976.5,441.6 998.7,412.2 1021.0,416.2 1043.3,401.0 1065.5,391.0 1087.8,385.0 1110.0,391.1 1132.3,398.3 1154.6,413.5 1176.8,415.5 1199.1,417.6 1221.3,424.7 1243.6,395.2 1265.9,391.1 1288.1,403.3 1310.4,424.7 1332.6,428.7 1354.9,471.4 1377.2,499.0 1399.4,525.8 1421.7,529.8 1443.9,547.6 1466.2,543.6" stroke="#66ab1e" stroke-width="2.05" fill="none" stroke-dasharray="3.4 5.1" stroke-linecap="round"/>
<polyline points="865.2,542.8 887.4,555.0 909.7,560.5 932.0,565.2 954.2,491.0 976.5,408.0 998.7,383.7 1021.0,400.0 1043.3,410.1 1065.5,400.6 1087.8,377.9 1110.0,380.0 1132.3,389.1 1154.6,398.3 1176.8,406.4 1199.1,415.5 1221.3,405.4 1243.6,409.4 1265.9,414.5 1288.1,416.5 1310.4,425.7 1332.6,431.0 1354.9,476.0 1377.2,517.4 1399.4,551.7 1421.7,551.3 1443.9,537.5 1466.2,537.9" stroke="#d0141c" stroke-width="2.05" fill="none" stroke-dasharray="3.4 5.1" stroke-linecap="round"/>
<polyline points="865.2,543.5 887.4,547.6 909.7,540.4 932.0,535.4 954.2,472.8 976.5,389.8 998.7,372.5 1021.0,373.5 1043.3,382.7 1065.5,389.5 1087.8,372.4 1110.0,386.7 1132.3,388.7 1154.6,385.0 1176.8,374.9 1199.1,369.8 1221.3,378.9 1243.6,385.0 1265.9,387.1 1288.1,384.0 1310.4,390.1 1332.6,392.0 1354.9,440.3 1377.2,495.5 1399.4,530.0 1421.7,560.2 1443.9,548.0 1466.2,532.2" stroke="#1268b3" stroke-width="2.05" fill="none" stroke-linejoin="round" stroke-linecap="round"/>
<polyline points="865.2,558.4 887.4,538.8 909.7,524.6 932.0,519.1 954.2,483.7 976.5,420.3 998.7,393.9 1021.0,382.0 1043.3,383.3 1065.5,383.8 1087.8,369.4 1110.0,364.7 1132.3,374.5 1154.6,366.7 1176.8,362.7 1199.1,375.4 1221.3,380.4 1243.6,376.9 1265.9,382.0 1288.1,392.8 1310.4,391.1 1332.6,403.3 1354.9,443.7 1377.2,489.8 1399.4,521.0 1421.7,527.3 1443.9,546.8 1466.2,543.6" stroke="#66ab1e" stroke-width="2.05" fill="none" stroke-linejoin="round" stroke-linecap="round"/>
<polyline points="865.2,543.5 887.4,537.4 909.7,542.2 932.0,551.7 954.2,490.7 976.5,407.0 998.7,380.7 1021.0,386.7 1043.3,390.8 1065.5,394.0 1087.8,385.0 1110.0,368.8 1132.3,374.9 1154.6,391.5 1176.8,388.7 1199.1,394.2 1221.3,389.1 1243.6,382.6 1265.9,390.1 1288.1,384.0 1310.4,391.5 1332.6,410.4 1354.9,440.3 1377.2,504.8 1399.4,541.5 1421.7,539.1 1443.9,542.8 1466.2,542.0" stroke="#d0141c" stroke-width="2.05" fill="none" stroke-linejoin="round" stroke-linecap="round"/>
<g stroke="#000" stroke-width="2.2" fill="none" stroke-linecap="round">
<path d="M853.8 52.3V648H1488.5"/>
<path d="M853.8 542.1H1488.6"/>
<path d="M853.8 150.2H842.6M853.8 346.1H842.6M853.8 542.1H842.6"/>
<path d="M909.7 648V659.2M1021 648V659.2M1132.3 648V659.2M1243.6 648V659.2M1354.9 648V659.2M1466.2 648V659.2"/>
</g>
<g fill="#000" font-size="27.4" stroke="#000" stroke-width=".85">
<text x="796" y="156.9" textLength="38.6" lengthAdjust="spacingAndGlyphs">1.0</text>
<text x="796" y="352.8" textLength="38.6" lengthAdjust="spacingAndGlyphs">0.5</text>
<text x="796" y="548.8" textLength="38.6" lengthAdjust="spacingAndGlyphs">0.0</text>
<g text-anchor="middle">
<text x="909.7" y="687">0</text><text x="1021" y="687">10</text><text x="1132.3" y="687">20</text>
<text x="1243.6" y="687">30</text><text x="1354.9" y="687">40</text><text x="1466.2" y="687">50</text>
</g></g>
<g fill="#000" font-weight="bold" font-size="29.3">
<text x="1118" y="722" textLength="105" lengthAdjust="spacingAndGlyphs">time [s]</text>
<text transform="translate(779.3 477) rotate(-90)" textLength="236" lengthAdjust="spacingAndGlyphs">% signal change</text>
</g>
<g fill="#000" stroke="#000" stroke-width=".25">
<line x1="1271.9" y1="61.6" x2="1311" y2="61.6" stroke="#1268b3" stroke-width="2" stroke-dasharray="3.5 5.3" stroke-linecap="round"/>
<text x="1320.2" y="69.6" font-size="23.3" textLength="159" lengthAdjust="spacingAndGlyphs">registering vis.</text>
<line x1="1271.9" y1="92.6" x2="1311" y2="92.6" stroke="#66ab1e" stroke-width="2" stroke-dasharray="3.5 5.3" stroke-linecap="round"/>
<text x="1320.2" y="100.6" font-size="23.3" textLength="172" lengthAdjust="spacingAndGlyphs">registering aud.</text>
<line x1="1271.9" y1="123.7" x2="1311" y2="123.7" stroke="#d0141c" stroke-width="2" stroke-dasharray="3.5 5.3" stroke-linecap="round"/>
<text x="1320.2" y="131.7" font-size="23.3" textLength="179" lengthAdjust="spacingAndGlyphs">registering verb.</text>
<line x1="1272" y1="154.7" x2="1314" y2="154.7" stroke="#1268b3" stroke-width="2.1" stroke-linecap="round"/>
<text x="1320.2" y="162.7" font-size="23.3" textLength="149.5" lengthAdjust="spacingAndGlyphs">evaluative vis.</text>
<line x1="1272" y1="185.7" x2="1314" y2="185.7" stroke="#66ab1e" stroke-width="2.1" stroke-linecap="round"/>
<text x="1320.2" y="193.7" font-size="23.3" textLength="163" lengthAdjust="spacingAndGlyphs">evaluative aud.</text>
<line x1="1272" y1="216.8" x2="1314" y2="216.8" stroke="#d0141c" stroke-width="2.1" stroke-linecap="round"/>
<text x="1320.2" y="224.8" font-size="23.3" textLength="170" lengthAdjust="spacingAndGlyphs">evaluative verb.</text>
</g>
</svg>
</body></html>
